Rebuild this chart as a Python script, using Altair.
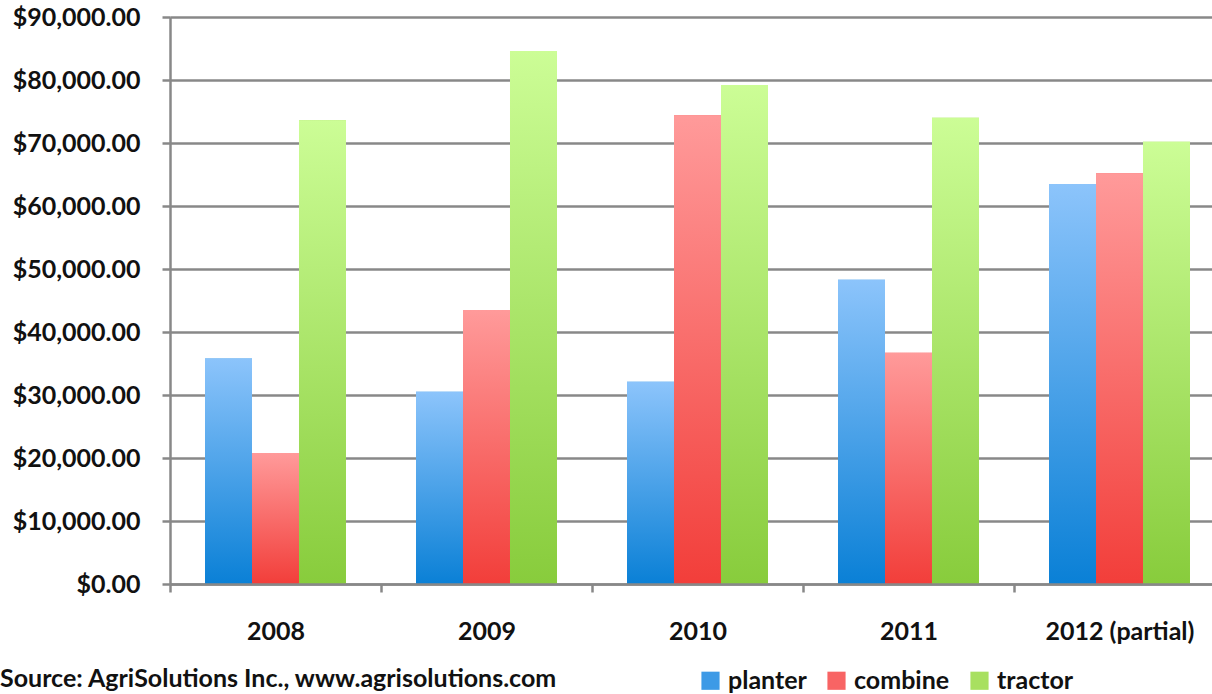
import altair as alt
import pandas as pd

# Average equipment prices by year
years = ["2008", "2009", "2010", "2011", "2012 (partial)"]
planter = [35800, 30500, 32100, 48300, 63500]
combine = [20800, 43500, 74400, 36700, 65200]
tractor = [73600, 84600, 79200, 74000, 70200]

series = ["planter", "combine", "tractor"]
values = {"planter": planter, "combine": combine, "tractor": tractor}

rows = []
for s in series:
    for y, v in zip(years, values[s]):
        rows.append({"year": y, "series": s, "price": v})
df = pd.DataFrame(rows)

FONT = "Lato"
GRID = "#888888"
TEXT = "#111111"

# top / bottom colours of each series' vertical gradient
grad_colors = {
    "planter": ("#8cc4fb", "#0a80d6"),
    "combine": ("#ff9a9a", "#f23e3a"),
    "tractor": ("#ccfd96", "#88cc3c"),
}
legend_colors = ["#3d9ae6", "#f86464", "#a8e060"]

x_enc = alt.X(
    "year:N",
    sort=years,
    title=None,
    scale=alt.Scale(domain=years, range=[0, 1055], paddingInner=0, paddingOuter=0),
    axis=alt.Axis(
        labelAngle=0,
        tickBand="extent",
        tickSize=8,
        tickColor=GRID,
        tickWidth=2.5,
        domain=True,
        domainColor=GRID,
        domainWidth=2.5,
        grid=False,
        labelFont=FONT,
        labelFontSize=25,
        labelFontWeight="bold",
        labelColor=TEXT,
        labelPadding=27,
        zindex=1,
    ),
)
xoff_enc = alt.XOffset(
    "series:N",
    sort=series,
    scale=alt.Scale(domain=series, paddingInner=0, paddingOuter=0.745),
)
y_enc = alt.Y(
    "price:Q",
    title=None,
    scale=alt.Scale(domain=[0, 90000], nice=False),
    axis=alt.Axis(
        values=list(range(0, 90001, 10000)),
        format="$,.2f",
        tickSize=8,
        tickColor=GRID,
        tickWidth=2.5,
        domainColor=GRID,
        domainWidth=2.5,
        gridColor=GRID,
        gridWidth=2.5,
        gridOpacity=1,
        labelFont=FONT,
        labelFontSize=25,
        labelFontWeight="bold",
        labelColor=TEXT,
        labelPadding=22,
    ),
)

base = alt.Chart(df).encode(x=x_enc, xOffset=xoff_enc, y=y_enc)

# solid layer carrying the legend
solid = base.mark_bar().encode(
    color=alt.Color(
        "series:N",
        sort=series,
        scale=alt.Scale(domain=series, range=legend_colors),
        legend=alt.Legend(
            title=None,
            orient="none",
            direction="horizontal",
            legendX=528,
            legendY=651,
            symbolType="square",
            symbolSize=330,
            symbolStrokeWidth=0,
            symbolOpacity=1,
            labelFont=FONT,
            labelFontSize=25,
            labelFontWeight="bold",
            labelColor=TEXT,
            labelOffset=5,
            columnPadding=17,
        ),
    )
)

# gradient-filled bars drawn over the solid ones
grad_layers = []
for s in series:
    top, bottom = grad_colors[s]
    g = alt.Gradient(
        gradient="linear",
        stops=[
            alt.GradientStop(offset=0, color=top),
            alt.GradientStop(offset=1, color=bottom),
        ],
        x1=0, x2=0, y1=0, y2=1,
    )
    grad_layers.append(
        base.mark_bar(color=g).transform_filter(alt.datum.series == s)
    )

source = alt.Chart(pd.DataFrame({"t": ["Source: AgriSolutions Inc., www.agrisolutions.com"]})).mark_text(
    align="left", baseline="middle", font=FONT, fontSize=25, fontWeight="bold", color=TEXT
).encode(x=alt.value(-170), y=alt.value(662), text="t:N")

chart = alt.layer(solid, *grad_layers, source).properties(
    width=1042,
    height=567,
    autosize=alt.AutoSizeParams(type="none"),
    padding={"left": 170, "top": 17, "right": 0, "bottom": 110},
).configure_view(stroke=None).configure(background="white")

chart.save("out.html", embed_options={"renderer": "svg", "actions": False})
